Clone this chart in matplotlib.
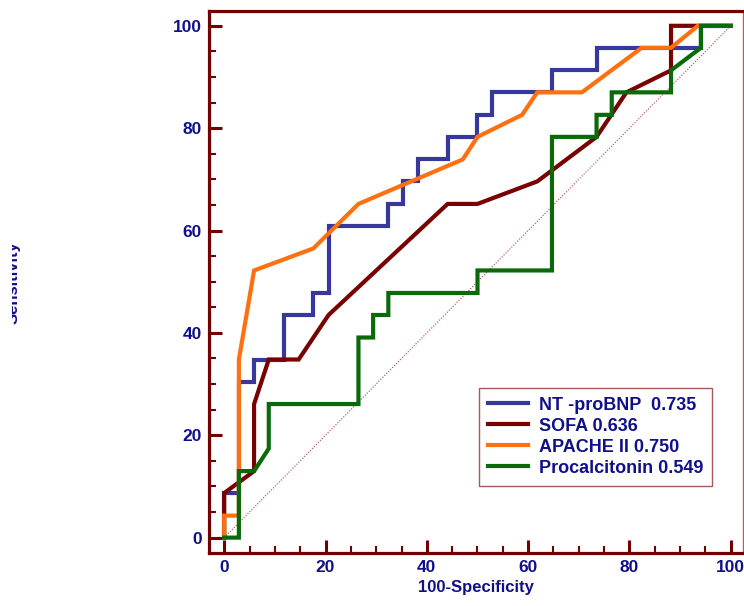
import matplotlib
matplotlib.use("Agg")
import matplotlib.pyplot as plt
from matplotlib.transforms import Bbox

plt.rcParams["font.family"] = ["Liberation Sans", "DejaVu Sans"]

# ROC curves: 100-specificity (x) vs sensitivity (y)
bnp_x = [0, 0, 2.9, 2.9, 5.9, 5.9, 11.8, 11.8, 17.6, 17.6, 20.6, 20.6, 32.4, 32.4, 35.3, 35.3,
         38.2, 38.2, 44.1, 44.1, 50.0, 50.0, 52.9, 52.9, 64.7, 64.7, 73.5, 73.5, 94.1, 94.1, 100]
bnp_y = [0, 8.7, 8.7, 30.4, 30.4, 34.8, 34.8, 43.5, 43.5, 47.8, 47.8, 60.9, 60.9, 65.2, 65.2, 69.6,
         69.6, 73.9, 73.9, 78.3, 78.3, 82.6, 82.6, 87.0, 87.0, 91.3, 91.3, 95.7, 95.7, 100, 100]

sofa_x = [0, 0, 5.9, 5.9, 8.8, 14.7, 20.6, 44.1, 50.0, 61.8, 73.5, 79.4, 88.2, 88.2, 100]
sofa_y = [0, 8.7, 13.0, 26.1, 34.8, 34.8, 43.5, 65.2, 65.2, 69.6, 78.3, 87.0, 91.3, 100, 100]

apache_x = [0, 0, 2.9, 2.9, 5.9, 17.6, 26.5, 47.1, 50.0, 58.8, 61.8, 70.6, 82.4, 88.2, 93.5, 100]
apache_y = [0, 4.3, 4.3, 34.8, 52.2, 56.5, 65.2, 73.9, 78.3, 82.6, 87.0, 87.0, 95.7, 95.7, 100, 100]

pct_x = [0, 2.9, 2.9, 5.9, 8.8, 8.8, 26.5, 26.5, 29.4, 29.4, 32.4, 32.4, 50.0, 50.0, 64.7, 64.7,
         73.5, 73.5, 76.5, 76.5, 88.2, 88.2, 94.1, 94.1, 100]
pct_y = [0, 0, 13.0, 13.0, 17.4, 26.1, 26.1, 39.1, 39.1, 43.5, 43.5, 47.8, 47.8, 52.2, 52.2, 78.3,
         78.3, 82.6, 82.6, 87.0, 87.0, 91.3, 95.7, 100, 100]

labels = ["NT -proBNP  0.735", "SOFA 0.636", "APACHE II 0.750", "Procalcitonin 0.549"]
colors = ["#38389c", "#780000", "#ff7010", "#0a6a0a"]

navy = "#10108a"
axis_red = "#700000"

fig = plt.figure(figsize=(7.44, 6.06), dpi=100)
ax = fig.add_axes([0.2809, 0.0875, 0.7177, 0.8944])

ax.plot([0, 100], [0, 100], color="#b04848", lw=0.8, ls=(0, (1, 1.5)), zorder=1)

series = [(bnp_x, bnp_y), (sofa_x, sofa_y), (apache_x, apache_y), (pct_x, pct_y)]
draw_order = [0, 1, 3, 2]
lines = {}
for i in draw_order:
    xs, ys = series[i]
    lines[i], = ax.plot(xs, ys, color=colors[i], lw=3.0, solid_joinstyle="miter", zorder=2 + i)

ax.set_xlim(-3, 102.4)
ax.set_ylim(-3, 102.9)
ax.set_xticks(range(0, 101, 20))
ax.set_yticks(range(0, 101, 20))
ax.set_xticks(range(0, 101, 5), minor=True)
ax.set_yticks(range(0, 101, 5), minor=True)

ax.tick_params(which="major", direction="in", length=9.5, width=2.2, color=axis_red,
               labelsize=12.5, labelcolor=navy, pad=5)
ax.tick_params(which="minor", direction="in", length=5, width=1.5, color=axis_red)
for lab in ax.get_xticklabels() + ax.get_yticklabels():
    lab.set_fontweight("bold")

for side in ["left", "top", "bottom"]:
    ax.spines[side].set_color(axis_red)
    ax.spines[side].set_linewidth(2.3)
ax.spines["right"].set_color("#a06868")
ax.spines["right"].set_linewidth(1.0)

ax.set_xlabel("100-Specificity", fontsize=12, fontweight="bold", color=navy, labelpad=4)
# y label sits half off the left edge in the original
ylab = fig.text(0.0175, 0.533, "Sensitivity", rotation=90, fontsize=12, fontweight="bold",
                color=navy, ha="center", va="center")
ylab.set_clip_box(Bbox([[12, 0], [744, 606]]))
ylab.set_clip_on(True)

leg = ax.legend([lines[i] for i in range(4)], labels, loc="upper left",
                bbox_to_anchor=(0.506, 0.305), borderaxespad=0, frameon=True, fancybox=False,
                handlelength=2.2, handletextpad=0.6, borderpad=0.5, labelspacing=0.22,
                prop={"weight": "bold", "size": 13})
leg.get_frame().set_edgecolor("#903030")
leg.get_frame().set_linewidth(1.0)
for t in leg.get_texts():
    t.set_color(navy)

fig.savefig("out.png", dpi=100)
